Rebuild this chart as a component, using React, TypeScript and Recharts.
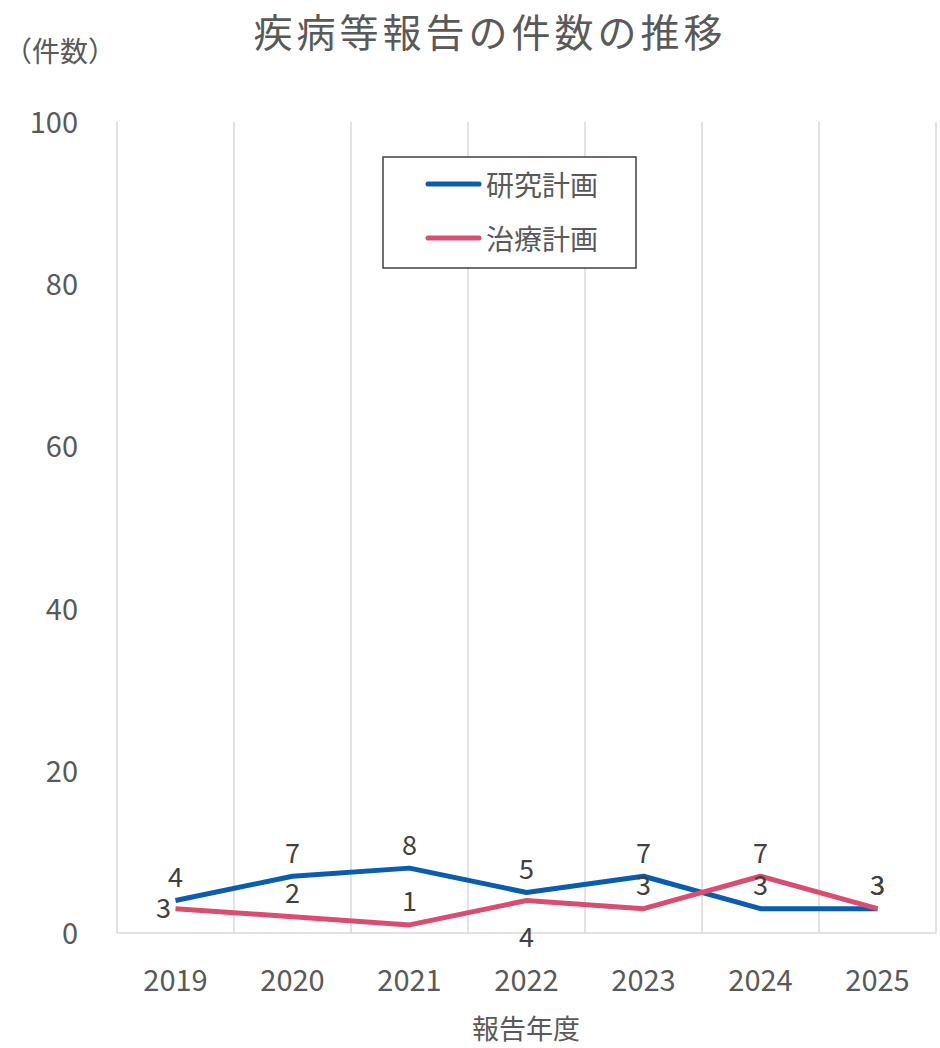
import { CartesianGrid, LabelList, Line, LineChart, XAxis, YAxis } from "recharts";

const years = ["2019", "2020", "2021", "2022", "2023", "2024", "2025"];
const researchPlan = [4, 7, 8, 5, 7, 3, 3];
const treatmentPlan = [3, 2, 1, 4, 3, 7, 3];
const yTicks = [0, 20, 40, 60, 80, 100];

const data = years.map((year, i) => ({
  year,
  research: researchPlan[i],
  treatment: treatmentPlan[i],
}));

// label placement per point (Excel moved a few around)
const researchLabelPos = ["above", "above", "above", "above", "above", "above", "above"];
const treatmentLabelPos = ["left", "above", "above", "below", "above", "above", "above"];

const BLUE = "#0A5CAF";
const PINK = "#D94E70";
const FONT = "'Noto Sans CJK JP', 'Noto Sans', sans-serif";

const makeLabel = (positions: string[]) => (props: any) => {
  const { x, y, value, index } = props;
  const pos = positions[index];
  let dx = 0;
  let dy = -25;
  if (pos === "below") dy = 35;
  if (pos === "left") {
    dx = -12;
    dy = -2;
  }
  return (
    <text
      x={x + dx}
      y={y + dy}
      textAnchor="middle"
      dominantBaseline="central"
      fill="#404040"
      fontSize={27}
      fontFamily={FONT}
    >
      {value}
    </text>
  );
};

const YTick = (props: any) => {
  const { x, y, payload } = props;
  return (
    <text x={x - 31} y={y - 2} textAnchor="end" dominantBaseline="central" fill="#595959" fontSize={29} fontFamily={FONT}>
      {payload.value}
    </text>
  );
};

const XTick = (props: any) => {
  const { x, y, payload } = props;
  return (
    <text x={x} y={y + 37} textAnchor="middle" dominantBaseline="central" fill="#595959" fontSize={29} fontFamily={FONT}>
      {payload.value}
    </text>
  );
};

const legendItems = [
  { name: "研究計画", color: BLUE },
  { name: "治療計画", color: PINK },
];

export default function App() {
  return (
    <div style={{ position: "absolute", left: 0, top: 0, width: 940, height: 1048, background: "#fff" }}>
      <LineChart width={940} height={1048} data={data} margin={{ top: 122, right: 4, bottom: 85, left: 17 }}>
        <CartesianGrid
          horizontal={false}
          stroke="#D9D9D9"
          strokeWidth={1.5}
          verticalCoordinatesGenerator={({ offset }: any) =>
            Array.from({ length: years.length + 1 }, (_, i) => offset.left + (i * offset.width) / years.length)
          }
        />
        <XAxis
          dataKey="year"
          height={30}
          interval={0}
          tick={<XTick />}
          tickLine={false}
          axisLine={{ stroke: "#D9D9D9", strokeWidth: 1.5 }}
          padding={{ left: 58.5, right: 58.5 }}
        />
        <YAxis
          width={100}
          domain={[0, 100]}
          ticks={yTicks}
          interval={0}
          tick={<YTick />}
          tickLine={false}
          axisLine={false}
        />
        <Line
          dataKey="research"
          name="研究計画"
          stroke={BLUE}
          strokeWidth={5}
          dot={false}
          strokeLinejoin="round"
          isAnimationActive={false}
        >
          <LabelList dataKey="research" content={makeLabel(researchLabelPos)} />
        </Line>
        <Line
          dataKey="treatment"
          name="治療計画"
          stroke={PINK}
          strokeWidth={5}
          dot={false}
          strokeLinejoin="round"
          isAnimationActive={false}
        >
          <LabelList dataKey="treatment" content={makeLabel(treatmentLabelPos)} />
        </Line>
        <g>
          <rect x={383} y={157} width={253} height={111} fill="#fff" stroke="#404040" strokeWidth={1.5} />
          {legendItems.map((item, i) => (
            <g key={item.name}>
              <line x1={428} x2={479} y1={184 + i * 54} y2={184 + i * 54} stroke={item.color} strokeWidth={5} strokeLinecap="round" />
              <text x={486} y={184 + i * 54} dominantBaseline="central" fill="#595959" fontSize={28} fontFamily={FONT}>
                {item.name}
              </text>
            </g>
          ))}
        </g>
        <text x={490} y={30} textAnchor="middle" dominantBaseline="central" fill="#595959" fontSize={39} letterSpacing={4} fontFamily={FONT}>
          疾病等報告の件数の推移
        </text>
        <text x={4} y={50} dominantBaseline="central" fill="#595959" fontSize={28} fontFamily={FONT}>
          （件数）
        </text>
        <text x={526} y={1027} textAnchor="middle" dominantBaseline="central" fill="#595959" fontSize={27} fontFamily={FONT}>
          報告年度
        </text>
      </LineChart>
    </div>
  );
}
